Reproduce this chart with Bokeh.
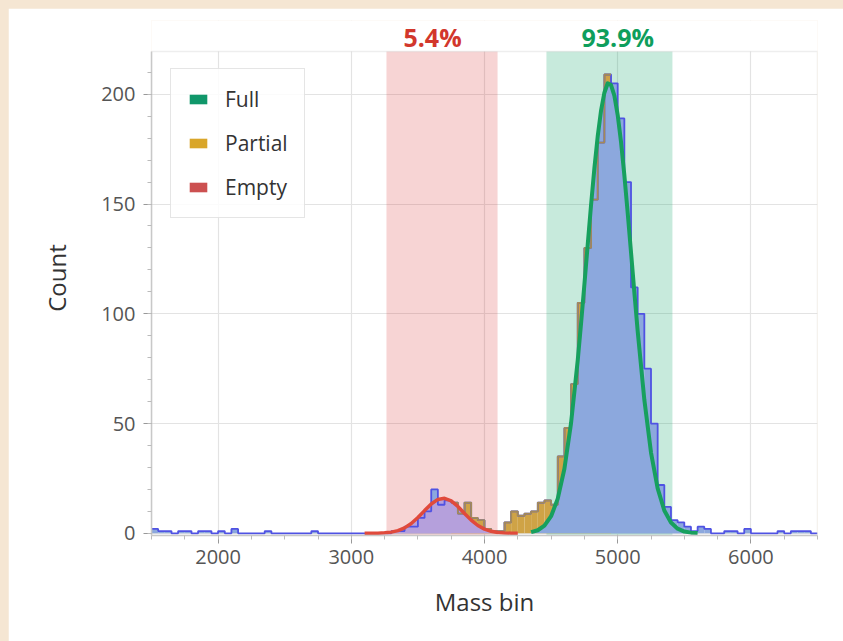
from bokeh.plotting import figure
from bokeh.models import (Range1d, SingleIntervalTicker, BoxAnnotation,
                          Legend, LegendItem, ColumnDataSource)
from bokeh.core.properties import value
from bokeh.embed import file_html
from bokeh.resources import INLINE

# ---------------- data ----------------
BIN_WIDTH = 50
bin_left = list(range(1500, 6500, BIN_WIDTH))
counts = [2, 1, 1, 0, 1, 1, 0, 1, 1, 0,
          1, 0, 2, 0, 0, 0, 0, 1, 0, 0,
          0, 0, 0, 0, 1, 0, 0, 0, 0, 0,
          0, 0, 0, 0, 0, 0, 1, 1, 3, 3,
          7, 10, 20, 13, 15, 14, 9, 14, 7, 6,
          2, 1, 1, 5, 10, 8, 9, 10, 14, 15,
          13, 35, 48, 68, 105, 130, 152, 178, 209, 205,
          189, 160, 112, 100, 75, 50, 22, 12, 6, 5,
          3, 1, 3, 2, 0, 0, 1, 1, 0, 2,
          0, 0, 0, 0, 1, 0, 1, 1, 1, 0]

# fitted "Empty" peak (red curve)
empty_x = [3100, 3150, 3200, 3250, 3300, 3350, 3400, 3450, 3500, 3550, 3600, 3650,
           3700, 3750, 3800, 3850, 3900, 3950, 4000, 4050, 4100, 4150, 4200, 4250]
empty_y = [0.0, 0.02, 0.08, 0.22, 0.54, 1.23, 2.47, 4.45, 7.17, 10.35, 13.37, 15.44,
           15.96, 14.77, 12.23, 9.06, 6.0, 3.56, 1.89, 0.9, 0.38, 0.15, 0.05, 0.0]

# fitted "Full" peak (green curve)
full_x = [4350, 4400, 4450, 4500, 4550, 4600, 4650, 4700, 4725, 4750, 4775, 4800,
          4825, 4850, 4875, 4900, 4925, 4950, 4975, 5000, 5025, 5050, 5075, 5100,
          5125, 5150, 5200, 5250, 5300, 5350, 5400, 5450, 5500, 5550, 5600]
full_y = [0.5, 1.4, 3.5, 7.8, 15.8, 29.4, 50.3, 78.8, 95.6, 113.4, 131.6, 149.6,
          166.3, 180.9, 192.6, 200.7, 205.0, 204.2, 199.4, 190.5, 178.2, 163.1, 146.0, 128.0,
          109.8, 92.1, 60.8, 36.8, 20.5, 10.4, 4.9, 2.1, 0.8, 0.3, 0.1]

# partial region (bins coloured as "Partial")
PARTIAL_START = 3750
PARTIAL_END = 4950

# shaded gates
empty_gate = (3264, 4098)
full_gate = (4465, 5411)

# percentage labels
labels = ["5.4%", "93.9%"]
label_x = [3610, 5000]
label_colors = ["#D2372C", "#0E9E5C"]

legend_names = ["Full", "Partial", "Empty"]
legend_colors = ["#10976A", "#D9A62A", "#CC5050"]

# axis extents
X_MIN, X_MAX = 1500, 6500
Y_MIN, Y_MAX = -1, 219.5
Y_CANVAS_TOP = 233.6      # room above the axes for the percentage labels
LABEL_Y = 225.9

# ---------------- styles ----------------
BLUE_FILL = "#8CA8DD"
BLUE_LINE = "#4F52E3"
ORANGE_FILL = "#CFA346"
ORANGE_LINE = "#A48A58"
PURPLE_FILL = "#B5A0DC"
RED_LINE = "#E04A3C"
GREEN_LINE = "#17A05E"
FRAME = "#C8C8C8"
FONT = "Open Sans"

p = figure(width=835, height=633, output_backend="svg", toolbar_location=None,
           x_range=Range1d(X_MIN, X_MAX), y_range=Range1d(Y_MIN, Y_CANVAS_TOP),
           min_border_left=143, min_border_right=26, min_border_top=12,
           min_border_bottom=106,
           background_fill_color="white", border_fill_color="white",
           outline_line_color=None)

# white cover above the axes area (hides grid lines there)
p.add_layout(BoxAnnotation(bottom=Y_MAX, fill_color="white", fill_alpha=1.0,
                           line_color=None, level="underlay"))
# gates
p.add_layout(BoxAnnotation(left=empty_gate[0], right=empty_gate[1], top=Y_MAX,
                           fill_color="#D62728", fill_alpha=0.2, line_color=None,
                           level="underlay"))
p.add_layout(BoxAnnotation(left=full_gate[0], right=full_gate[1], top=Y_MAX,
                           fill_color="#009E60", fill_alpha=0.22, line_color=None,
                           level="underlay"))

# histogram bars
bin_right = [b + BIN_WIDTH for b in bin_left]
bar_colors = [ORANGE_FILL if PARTIAL_START <= b < PARTIAL_END else BLUE_FILL
              for b in bin_left]
src = ColumnDataSource(dict(left=bin_left, right=bin_right, top=counts,
                            bottom=[0] * len(counts), color=bar_colors))
p.quad(left="left", right="right", top="top", bottom="bottom", source=src,
       fill_color="color", line_color=None)

# areas under fitted curves
p.varea(x=empty_x, y1=[0] * len(empty_x), y2=empty_y, fill_color=PURPLE_FILL)
p.varea(x=full_x, y1=[0] * len(full_x), y2=full_y, fill_color=BLUE_FILL)

# histogram outline
step_x = bin_left + [bin_right[-1]]
step_y = counts + [counts[-1]]
p.step(x=step_x, y=step_y, mode="after", line_color=BLUE_LINE, line_width=1.8)
part_idx = [i for i, b in enumerate(bin_left) if PARTIAL_START <= b < PARTIAL_END]
px = [bin_left[i] for i in part_idx] + [bin_right[part_idx[-1]]]
py = [counts[i] for i in part_idx] + [counts[part_idx[-1]]]
p.step(x=px, y=py, mode="after", line_color=ORANGE_LINE, line_width=1.8)

# fitted curves
p.line(empty_x, empty_y, line_color=RED_LINE, line_width=3.5)
p.line(full_x, full_y, line_color=GREEN_LINE, line_width=4, line_join="round")

# axes frame (top / right edges)
p.add_layout(BoxAnnotation(top=Y_MAX, fill_alpha=0, line_color=FRAME,
                           line_width=1.5, level="overlay"))

# percentage labels above the gates
p.text(x=label_x, y=[LABEL_Y] * len(labels), text=labels, text_color=label_colors,
       text_align="center", text_baseline="middle", text_font=value(FONT),
       text_font_style="bold", text_font_size="25px")

# legend (swatches from zero-area bars)
items = []
for name, c in zip(legend_names, legend_colors):
    r = p.quad(left=[bin_left[0]], right=[bin_left[0]], top=[0], bottom=[0],
               fill_color=c, line_color=None)
    items.append(LegendItem(label=name, renderers=[r]))
legend = Legend(items=items, location=(19, 317), margin=0, padding=16,
                spacing=16, glyph_width=22, glyph_height=12, label_standoff=16,
                label_text_font=FONT, label_text_font_size="21px",
                label_text_color="#333333",
                border_line_color="#CCCCCC", border_line_width=1.2,
                background_fill_color="white", background_fill_alpha=0.85)
p.add_layout(legend, "center")

# axes
xt = SingleIntervalTicker(interval=1000, num_minor_ticks=4)
yt = SingleIntervalTicker(interval=50, num_minor_ticks=5)
p.xaxis.ticker = xt
p.yaxis.ticker = yt
p.xgrid.ticker = xt
p.ygrid.ticker = yt
p.yaxis.bounds = (Y_MIN, Y_MAX)
p.grid.grid_line_color = "#E3E3E3"
p.grid.grid_line_width = 1.2

p.xaxis.axis_label = "Mass bin"
p.yaxis.axis_label = "Count"
for ax in (p.xaxis, p.yaxis):
    ax.axis_label_text_font = FONT
    ax.axis_label_text_font_size = "24px"
    ax.axis_label_text_font_style = "normal"
    ax.axis_label_text_color = "#333333"
    ax.major_label_text_font = FONT
    ax.major_label_text_font_size = "20px"
    ax.major_label_text_color = "#555555"
    ax.axis_line_color = FRAME
    ax.axis_line_width = 1.5
    ax.major_tick_line_color = "#999999"
    ax.minor_tick_line_color = "#BBBBBB"
    ax.major_tick_out = 8
    ax.major_tick_in = 0
    ax.minor_tick_out = 4
    ax.minor_tick_in = 0
p.xaxis.major_label_standoff = 6
p.xaxis.axis_label_standoff = 18
p.yaxis.major_label_standoff = 8
p.yaxis.axis_label_standoff = 25

html = file_html(p, INLINE)
page_css = ("<style>html, body { background-color: #F5E6D3 !important; } "
            "body { padding: 8px 0 0 8px !important; overflow: hidden !important; }</style>")
html = html.replace("</head>", page_css + "\n</head>", 1)
open("out.html", "w").write(html)
